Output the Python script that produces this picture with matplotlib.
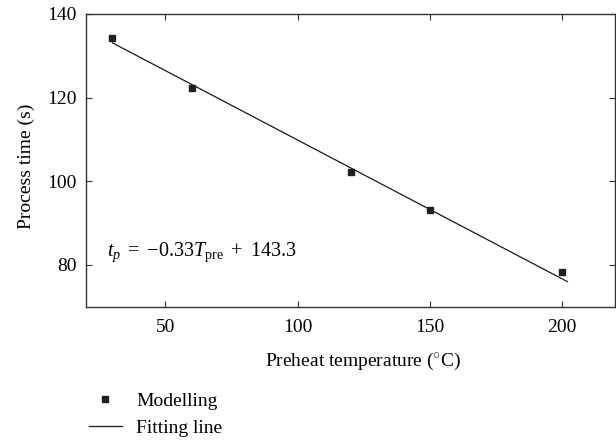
import matplotlib
matplotlib.use('Agg')
import matplotlib.pyplot as plt

# modelling results
temps = [30, 60, 120, 150, 200]
times = [134.2, 122.3, 102.3, 93.2, 78.4]

# ends of the fitted line
fit_x = [30, 202]
fit_y = [133.1, 76.0]

xticks = [50, 100, 150, 200]
yticks = [80, 100, 120, 140]

plt.rcParams['font.family'] = 'Liberation Serif'
plt.rcParams['mathtext.fontset'] = 'custom'
plt.rcParams['mathtext.rm'] = 'Liberation Serif'
plt.rcParams['mathtext.it'] = 'Liberation Serif:italic'
plt.rcParams['font.size'] = 14

fig = plt.figure(figsize=(6.16, 4.42), dpi=100)
ax = fig.add_axes([86 / 616, 1 - 306.7 / 442, 529 / 616, 292.7 / 442])

ax.plot(temps, times, 's', color='#231f20', markersize=5, label='Modelling', zorder=3)
ax.plot(fit_x, fit_y, '-', color='#1a1a1a', linewidth=0.9, label='Fitting line')

ax.set_xlim(20, 220)
ax.set_ylim(70, 140)
ax.set_xticks(xticks)
ax.set_yticks(yticks)

ax.tick_params(direction='in', length=4, width=0.8, color='#333333',
               top=True, right=True)
ax.tick_params(axis='x', pad=9)
ax.tick_params(axis='y', pad=7)
for s in ax.spines.values():
    s.set_color('#333333')
    s.set_linewidth(1.0)

ax.set_xlabel('Preheat temperature ($^{\\circ}$C)')
ax.xaxis.set_label_coords((363 - 86) / 529, -0.15)
ax.set_ylabel('Process time (s)')
ax.yaxis.set_label_coords(-0.096, 0.48)

# equation of the fitted line
ax.text(27.9, 82.2, '$t_p\\ =\\ {-}0.33T_{\\rm pre}\\ +\\ 143.3$', va='baseline', ha='left',
        fontsize=14.5)

fig.legend(loc='upper left', bbox_to_anchor=(88.5 / 616, 1 - 392 / 442),
           frameon=False, borderpad=0, borderaxespad=0, handlelength=1.7,
           handletextpad=0.75, labelspacing=0.5, fontsize=14)

fig.savefig('out.png', dpi=100)
